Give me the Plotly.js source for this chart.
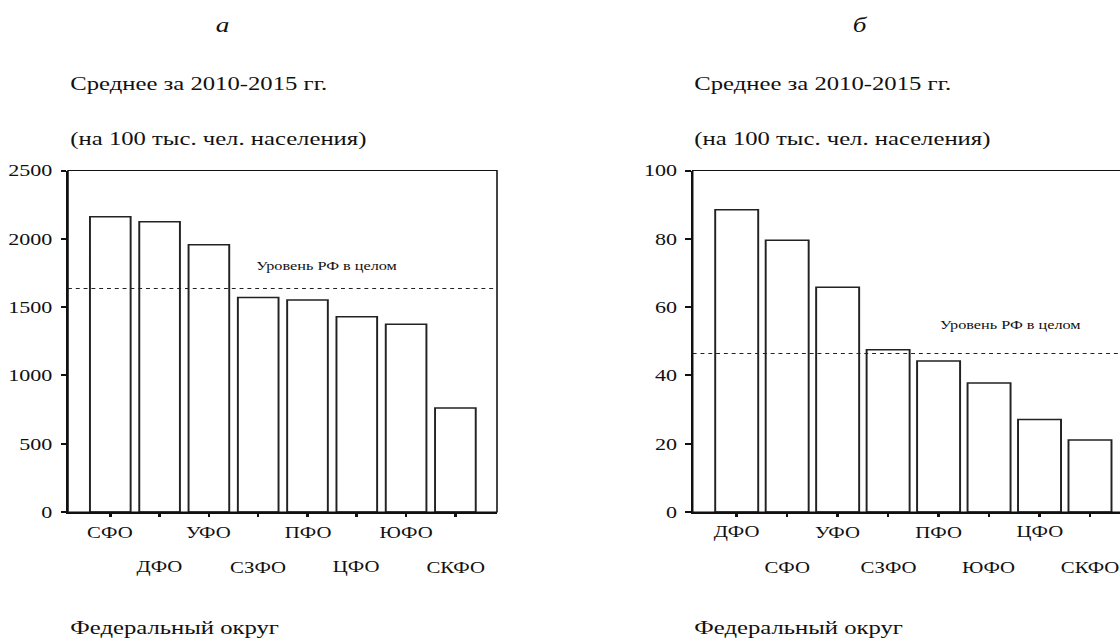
<!DOCTYPE html>
<html>
<head>
<meta charset="utf-8">
<script src="https://cdn.plot.ly/plotly-3.0.1.min.js"></script>
<style>
  html, body { margin: 0; padding: 0; background: #fff; overflow: hidden; }
  /* the figure is laid out narrow and stretched horizontally */
  #chart { width: 885px; height: 640px; transform: scaleX(1.3); transform-origin: 0 0; }
  #chart .ytick text, #chart .y2tick text { font-family: 'Liberation Serif', serif !important; }
</style>
</head>
<body>
<div id="chart"></div>
<script>
// Panel а: average 2010-2015, per 100 thousand population
const categoriesA = ['СФО', 'ДФО', 'УФО', 'СЗФО', 'ПФО', 'ЦФО', 'ЮФО', 'СКФО'];
const valuesA = [2161, 2124, 1957, 1570, 1552, 1430, 1374, 762];
const levelA = 1637;
const yTicksA = [0, 500, 1000, 1500, 2000, 2500];

// Panel б
const categoriesB = ['ДФО', 'СФО', 'УФО', 'СЗФО', 'ПФО', 'ЮФО', 'ЦФО', 'СКФО'];
const valuesB = [88.5, 79.6, 65.8, 47.5, 44.2, 37.8, 27.1, 21.1];
const levelB = 46.4;
const yTicksB = [0, 20, 40, 60, 80, 100];

const panelLetters = ['а', 'б'];
const titleLine1 = 'Среднее за 2010-2015 гг.';
const titleLine2 = '(на 100 тыс. чел. населения)';
const xTitle = 'Федеральный округ';
const levelLabel = 'Уровень РФ в целом';

const SERIF = 'Liberation Serif';
const INK = '#111';
const SCREEN_W = 885 * 1.3;
const fx = px => px / SCREEN_W;     // horizontal screen px -> paper fraction
const fy = py => 1 - py / 640;      // vertical screen px -> paper fraction

const barStyle = {
  type: 'bar',
  marker: { color: '#fff', line: { color: '#222', width: 1.5 } },
  hoverinfo: 'x+y',
  showlegend: false
};

const data = [
  Object.assign({}, barStyle, { x: categoriesA, y: valuesA, xaxis: 'x', yaxis: 'y', width: 0.825 }),
  Object.assign({}, barStyle, { x: categoriesB, y: valuesB, xaxis: 'x2', yaxis: 'y2', width: 0.852 })
];

function xAxis(domain, range, cats) {
  return {
    domain: domain, range: range, type: 'category',
    tickmode: 'array', tickvals: cats, ticktext: cats.map(() => ''),
    showticklabels: false,
    ticks: 'outside', ticklen: 3, tickwidth: 2, tickcolor: INK,
    showline: true, linewidth: 2, linecolor: INK,
    showgrid: false, zeroline: false, fixedrange: true
  };
}
function yAxis(anchor, range, ticks) {
  return {
    anchor: anchor, domain: [fy(512), fy(170.5)], range: range,
    tickmode: 'array', tickvals: ticks, ticktext: ticks.map(String),
    ticks: 'outside', ticklen: 4, tickwidth: 2, tickcolor: INK,
    tickfont: { family: SERIF, size: 17, color: INK },
    ticklabelstandoff: 3,
    showline: true, linewidth: 1.6, linecolor: INK,
    showgrid: false, zeroline: false, fixedrange: true
  };
}

const annotations = [];
function panelText(left, labelX, labelY, cats, xref) {
  const txt = (text, x, y, size) => ({
    text: text, x: x, y: y, xref: 'paper', yref: 'paper',
    xanchor: 'left', yanchor: 'middle', showarrow: false,
    font: { family: SERIF, size: size, color: INK }
  });
  annotations.push(txt(titleLine1, fx(left), fy(83.5), 19));
  annotations.push(txt(titleLine2, fx(left), fy(138.5), 19));
  annotations.push(txt(xTitle, fx(left), fy(627), 19));
  annotations.push(txt(levelLabel, fx(labelX), fy(labelY), 12.5));
  // category labels in two staggered rows
  cats.forEach((c, i) => {
    annotations.push({
      text: c, x: c, xref: xref, y: fy(i % 2 === 0 ? 532 : 567), yref: 'paper',
      xanchor: 'center', yanchor: 'middle', showarrow: false,
      font: { family: SERIF, size: 16, color: INK }
    });
  });
}
panelText(68, 253, 266, categoriesA, 'x');
panelText(692, 937, 325, categoriesB, 'x2');
panelLetters.forEach((t, i) => {
  annotations.push({
    text: '<i>' + t + '</i>', x: fx(i === 0 ? 223 : 860), y: fy(25),
    xref: 'paper', yref: 'paper', xanchor: 'center', yanchor: 'middle',
    showarrow: false, font: { family: SERIF, size: 21, color: INK }
  });
});

const shapes = [];
[['x', 'y', levelA], ['x2', 'y2', levelB]].forEach(([xa, ya, lvl]) => {
  shapes.push({
    type: 'rect', xref: xa + ' domain', yref: ya + ' domain',
    x0: 0, x1: 1, y0: 0, y1: 1, line: { color: INK, width: 1.2 }
  });
  shapes.push({
    type: 'line', xref: xa + ' domain', yref: ya,
    x0: 0, x1: 1, y0: lvl, y1: lvl,
    line: { color: '#222', width: 1, dash: '3px,3px' }
  });
});

const layout = {
  width: 885, height: 640,
  margin: { l: 0, r: 0, t: 0, b: 0 },
  font: { family: SERIF, size: 17, color: INK },
  paper_bgcolor: '#fff', plot_bgcolor: '#fff',
  bargap: 0,
  xaxis: Object.assign(xAxis([fx(68), fx(497)], [-0.858, 7.844], categoriesA), { anchor: 'y' }),
  yaxis: yAxis('x', [0, 2500], yTicksA),
  xaxis2: Object.assign(xAxis([fx(692.7), fx(1134)], [-0.872, 7.872], categoriesB), { anchor: 'y2' }),
  yaxis2: yAxis('x2', [0, 100], yTicksB),
  annotations: annotations,
  shapes: shapes
};

Plotly.newPlot('chart', data, layout, { displayModeBar: false, staticPlot: true });
</script>
</body>
</html>
